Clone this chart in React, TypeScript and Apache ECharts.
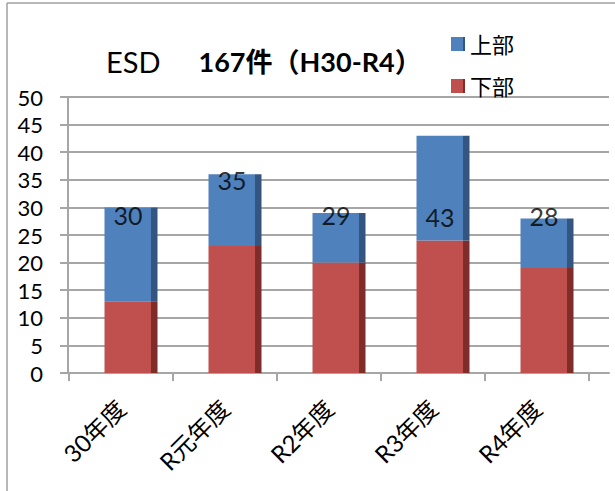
import React, { useEffect, useRef } from "react";
import * as echarts from "echarts";

const categories = ["30年度", "R元年度", "R2年度", "R3年度", "R4年度"];
const lowerValues = [13, 23, 20, 24, 19]; // 下部
const upperValues = [17, 13, 9, 19, 9]; // 上部
const totalLabels = ["30", "35", "29", "43", "28"];
const labelY = [28.6, 35.0, 28.6, 28.3, 28.4];
const yTicks = { min: 0, max: 50, interval: 5 };

const FONT = "Lato, 'Noto Sans CJK JP', sans-serif";
const GRID_COLOR = "#a6a6a6";

function faceGradient(front: string, side: string) {
  return new echarts.graphic.LinearGradient(0, 0, 1, 0, [
    { offset: 0, color: front },
    { offset: 0.885, color: front },
    { offset: 0.885, color: side },
    { offset: 1, color: side },
  ]);
}

export default function App() {
  const ref = useRef<HTMLDivElement>(null);
  useEffect(() => {
    if (!ref.current) return;
    const chart = echarts.init(ref.current, undefined, { renderer: "svg" });
    const top = 97;
    const height = 276;
    chart.setOption({
      animation: false,
      backgroundColor: "#ffffff",
      textStyle: { fontFamily: FONT },
      title: {
        text: "{a|ESD}{b|167件（H30-R4）}",
        left: 106,
        top: 47,
        padding: 0,
        textStyle: {
          rich: {
            a: { fontSize: 29, fontFamily: FONT, color: "#000", fontWeight: "normal" },
            b: {
              fontSize: 27,
              fontFamily: FONT,
              color: "#000",
              fontWeight: "bold",
              padding: [0, 0, 0, 38],
            },
          },
        },
      },
      legend: {
        data: ["上部", "下部"],
        orient: "vertical",
        left: 446,
        top: 27,
        itemWidth: 14,
        itemHeight: 14,
        itemGap: 18,
        icon: "rect",
        textStyle: { fontSize: 22, lineHeight: 24, color: "#000", fontFamily: FONT },
      },
      grid: [
        { left: 68, top, width: 541, height },
        { left: 69, top, width: 520, height },
        { left: 79, top, width: 520, height },
      ],
      xAxis: [
        {
          gridIndex: 0,
          type: "value",
          min: 0,
          max: 1,
          axisLine: { show: true, onZero: false, lineStyle: { color: GRID_COLOR, width: 2 } },
          axisTick: { show: false },
          axisLabel: { show: false },
          splitLine: { show: false },
        },
        {
          gridIndex: 1,
          type: "category",
          data: categories,
          axisLine: { show: false },
          axisTick: { show: true, interval: 0, length: 8, lineStyle: { color: GRID_COLOR, width: 2 } },
          axisLabel: {
            interval: 0,
            rotate: 45,
            margin: 31,
            fontSize: 24,
            color: "#000",
            fontFamily: FONT,
          },
        },
        {
          gridIndex: 2,
          type: "category",
          data: categories,
          show: false,
        },
      ],
      yAxis: [
        {
          gridIndex: 0,
          type: "value",
          min: yTicks.min,
          max: yTicks.max,
          interval: yTicks.interval,
          axisLine: { show: true, lineStyle: { color: GRID_COLOR, width: 2 } },
          axisTick: { show: true, length: 8, lineStyle: { color: GRID_COLOR, width: 2 } },
          axisLabel: { margin: 25, fontSize: 22, color: "#000", fontFamily: FONT },
          splitLine: { show: true, lineStyle: { color: GRID_COLOR, width: 2 } },
        },
        { gridIndex: 1, type: "value", min: 0, max: 50, show: false, splitLine: { show: false } },
        { gridIndex: 2, type: "value", min: 0, max: 50, show: false, splitLine: { show: false } },
      ],
      series: [
        {
          name: "下部",
          type: "bar",
          xAxisIndex: 2,
          yAxisIndex: 2,
          stack: "total",
          barWidth: 53,
          data: lowerValues,
          itemStyle: { color: faceGradient("#c0504d", "#7e2d2b") },
        },
        {
          name: "上部",
          type: "bar",
          xAxisIndex: 2,
          yAxisIndex: 2,
          stack: "total",
          barWidth: 53,
          data: upperValues,
          itemStyle: { color: faceGradient("#4f81bd", "#33557f") },
        },
        {
          name: "labels",
          type: "scatter",
          xAxisIndex: 2,
          yAxisIndex: 2,
          symbolSize: 0,
          silent: true,
          data: labelY.map((y, i) => [i, y]),
          label: {
            show: true,
            position: "inside",
            offset: [-3, 0],
            formatter: (p: any) => totalLabels[p.dataIndex],
            fontSize: 25,
            color: "#000",
            fontFamily: FONT,
          },
          z: 5,
        },
      ],
      graphic: [
        {
          type: "line",
          shape: { x1: 7, y1: 3, x2: 615, y2: 3 },
          style: { stroke: "#a0a0a0", lineWidth: 1.5 },
        },
        {
          type: "line",
          shape: { x1: 7, y1: 3, x2: 7, y2: 491 },
          style: { stroke: "#a0a0a0", lineWidth: 1.5 },
        },
      ],
    });
    return () => chart.dispose();
  }, []);
  return (
    <div
      ref={ref}
      style={{ position: "fixed", left: 0, top: 0, width: 615, height: 491 }}
    />
  );
}
